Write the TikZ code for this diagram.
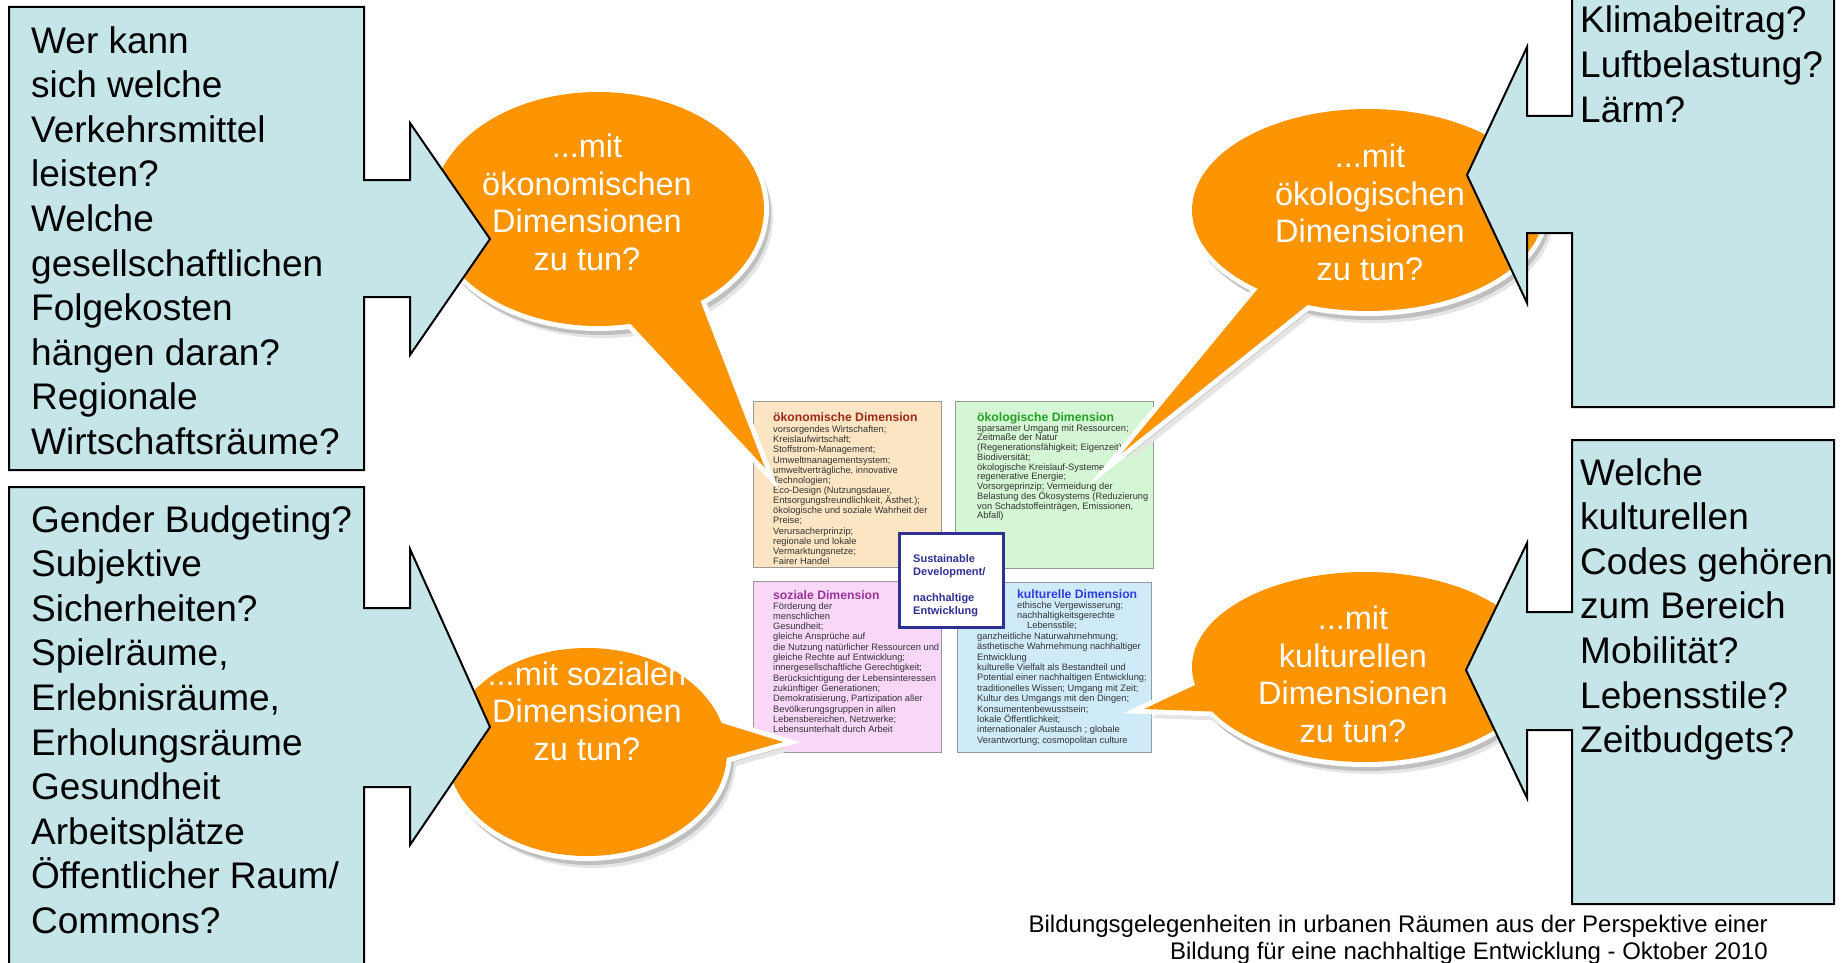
\documentclass[tikz,border=0pt]{standalone}
\usepackage{fontspec}
\setmainfont{Liberation Sans}
\usetikzlibrary{calc}
\definecolor{callblue}{HTML}{C5E5E8}
\definecolor{bubbleorange}{HTML}{FD9402}
\definecolor{econfill}{HTML}{FBE5C2}
\definecolor{ecofill}{HTML}{D5F6D5}
\definecolor{sozfill}{HTML}{F9D7F9}
\definecolor{kultfill}{HTML}{CFEBF9}
\definecolor{econtitle}{HTML}{9C2A1A}
\definecolor{ecotitle}{HTML}{22A022}
\definecolor{soztitle}{HTML}{9A3399}
\definecolor{kulttitle}{HTML}{2F3DE0}
\definecolor{sdnavy}{HTML}{2E3192}
\definecolor{bodygrey}{HTML}{333333}
\newcommand\speechbubble[6]{%
  \begin{scope}[shift={(6,9)}]
    \fill[black!10] #1 ellipse[x radius=#2+3, y radius=#3+3];
    \fill[black!10] #4 -- #6 -- #5 -- cycle;
  \end{scope}
  \begin{scope}[shift={(3,5)}]
    \fill[black!25] #1 ellipse[x radius=#2+4, y radius=#3+4];
    \fill[black!25] #4 -- #6 -- #5 -- cycle;
  \end{scope}
  \fill[white] #1 ellipse[x radius=#2+5, y radius=#3+5];
  \filldraw[white, line width=10pt, line join=miter] #4 -- #6 -- #5 -- cycle;
  \fill[bubbleorange] #1 ellipse[x radius=#2, y radius=#3];
  \fill[bubbleorange] #4 -- #6 -- #5 -- cycle;
}
\begin{document}
\begin{tikzpicture}[x=1pt,y=-1pt,
  callout/.style={fill=callblue, draw=black, line width=2pt, line join=miter},
  calltext/.style={font=\fontsize{37}{44.6}\selectfont, align=left, anchor=base west, inner sep=0pt},
  bubbletext/.style={font=\fontsize{32.5}{37.5}\selectfont, text=white, align=center, inner sep=0pt},
  dimbox/.style={draw=black!40, line width=1.2pt, anchor=north west, inner sep=0pt},
  dimtitle/.style={font=\fontsize{12.2}{14}\selectfont\bfseries, anchor=base west, inner sep=0pt},
  dimbody/.style={font=\fontsize{9.3}{10.15}\selectfont, text=bodygrey, align=left, anchor=base west, inner sep=0pt},
  sdbox/.style={draw=sdnavy, line width=2.5pt, fill=white, anchor=north west, inner sep=0pt},
  sdtext/.style={font=\fontsize{11}{13}\selectfont\bfseries, text=sdnavy, align=left, anchor=base west, inner sep=0pt}
]
\useasboundingbox (0,0) rectangle (1841,963);
\clip (0,0) rectangle (1841,963);

% ---------- central chart ----------
\node[dimbox, fill=econfill, minimum width=188pt, minimum height=166pt] (econ) at (753,401) {};
\node[dimbox, fill=ecofill, minimum width=198pt, minimum height=167pt] (eco) at (955,401) {};
\node[dimbox, fill=sozfill, minimum width=188pt, minimum height=171pt] (soz) at (753,581) {};
\node[dimbox, fill=kultfill, minimum width=194pt, minimum height=170pt] (kult) at (957,582) {};

% (multi-line nodes: anchor=base is the baseline of the last line)
\node[dimtitle, text=econtitle] (econT) at (773,421) {ökonomische Dimension};
\node[dimbody] (econB) at (773,564.5) {vorsorgendes Wirtschaften;\\Kreislaufwirtschaft;\\Stoffstrom-Management;\\Umweltmanagementsystem;\\umweltverträgliche, innovative\\Technologien;\\Eco-Design (Nutzungsdauer,\\Entsorgungsfreundlichkeit, Ästhet.);\\ökologische und soziale Wahrheit der\\Preise;\\Verursacherprinzip;\\regionale und lokale\\Vermarktungsnetze;\\Fairer Handel};

\node[dimtitle, text=ecotitle] (ecoT) at (977,421) {ökologische Dimension};
\node[dimbody, font=\fontsize{9.3}{9.75}\selectfont] (ecoB) at (977,518.8) {sparsamer Umgang mit Ressourcen;\\Zeitmaße der Natur\\(Regenerationsfähigkeit; Eigenzeit);\\Biodiversität;\\ökologische Kreislauf-Systeme;\\regenerative Energie;\\Vorsorgeprinzip; Vermeidung der\\Belastung des Ökosystems (Reduzierung\\von Schadstoffeinträgen, Emissionen,\\Abfall)};

\node[dimtitle, text=soztitle] (sozT) at (773,599) {soziale Dimension};
\node[dimbody, font=\fontsize{9.3}{10.3}\selectfont] (sozB) at (773,732.6) {Förderung der\\menschlichen\\Gesundheit;\\gleiche Ansprüche auf\\die Nutzung natürlicher Ressourcen und\\gleiche Rechte auf Entwicklung;\\innergesellschaftliche Gerechtigkeit;\\Berücksichtigung der Lebensinteressen\\zukünftiger Generationen;\\Demokratisierung, Partizipation aller\\Bevölkerungsgruppen in allen\\Lebensbereichen, Netzwerke;\\Lebensunterhalt durch Arbeit};

\node[dimtitle, text=kulttitle] (kultT) at (1017,598.5) {kulturelle Dimension};
\node[dimbody, font=\fontsize{9.3}{10.4}\selectfont] (kultB) at (977,743.2) {\hspace*{40pt}ethische Vergewisserung;\\\hspace*{40pt}nachhaltigkeitsgerechte\\\hspace*{50pt}Lebensstile;\\ganzheitliche Naturwahrnehmung;\\ästhetische Wahrnehmung nachhaltiger\\Entwicklung\\kulturelle Vielfalt als Bestandteil und\\Potential einer nachhaltigen Entwicklung;\\traditionelles Wissen; Umgang mit Zeit;\\Kultur des Umgangs mit den Dingen;\\Konsumentenbewusstsein;\\lokale Öffentlichkeit;\\internationaler Austausch ; globale\\Verantwortung; cosmopolitan culture};

\node[sdbox, minimum width=104pt, minimum height=94pt] (sd) at (898,532) {};
\node[sdtext] (sdT) at (913,614) {Sustainable\\Development/\\[13pt]nachhaltige\\Entwicklung};

% ---------- speech bubbles ----------
\speechbubble{(598,209)}{166}{117}{(625,318)}{(700,300)}{(765,468)}
\speechbubble{(1368,210)}{176}{101}{(1265,280)}{(1320,295)}{(1122,453)}
\speechbubble{(587,752)}{140}{104}{(712,720)}{(712,762)}{(783,742)}
\speechbubble{(1365,667)}{173}{95}{(1210,678)}{(1225,712)}{(1144,709)}

\node[bubbletext, anchor=base] (b1) at (587,270) {...mit\\ökonomischen\\Dimensionen\\zu tun?};
\node[bubbletext, anchor=base] (b2) at (1370,280) {...mit\\ökologischen\\Dimensionen\\zu tun?};
\node[bubbletext, anchor=base] (b3) at (587,760) {...mit sozialen\\Dimensionen\\zu tun?};
\node[bubbletext, anchor=base] (b4) at (1353,742) {...mit\\kulturellen\\Dimensionen\\zu tun?};

% ---------- callouts ----------
\path[callout] (9,7) -- (364,7) -- (364,180) -- (410,180) -- (410,123) -- (490,239) -- (410,355) -- (410,297) -- (364,297) -- (364,470) -- (9,470) -- cycle;
\path[callout] (9,487) -- (364,487) -- (364,608) -- (410,608) -- (410,549) -- (490,727) -- (410,845) -- (410,787) -- (364,787) -- (364,975) -- (9,975) -- cycle;
\path[callout] (1572,-10) -- (1834,-10) -- (1834,407) -- (1572,407) -- (1572,233) -- (1527,233) -- (1527,303) -- (1467,175) -- (1527,47) -- (1527,116) -- (1572,116) -- cycle;
\path[callout] (1572,440) -- (1834,440) -- (1834,904) -- (1572,904) -- (1572,730) -- (1527,730) -- (1527,798) -- (1466,670) -- (1527,543) -- (1527,612) -- (1572,612) -- cycle;

\node[calltext] (tl) at (31,454.4) {Wer kann\\sich welche\\Verkehrsmittel\\leisten?\\Welche\\gesellschaftlichen\\Folgekosten\\hängen daran?\\Regionale\\Wirtschaftsräume?};
\node[calltext] (bl) at (31,933.4) {Gender Budgeting?\\Subjektive\\Sicherheiten?\\Spielräume,\\Erlebnisräume,\\Erholungsräume\\Gesundheit\\Arbeitsplätze\\Öffentlicher Raum/\\Commons?};
\node[calltext] (tr) at (1580,122.2) {Klimabeitrag?\\Luftbelastung?\\Lärm?};
\node[calltext] (br) at (1580,752.6) {Welche\\kulturellen\\Codes gehören\\zum Bereich\\Mobilität?\\Lebensstile?\\Zeitbudgets?};

% ---------- footer ----------
\node[font=\fontsize{24}{27}\selectfont, align=right, anchor=base east, inner sep=0pt] (footer) at (1768,959) {Bildungsgelegenheiten in urbanen Räumen aus der Perspektive einer\\Bildung für eine nachhaltige Entwicklung - Oktober 2010};
\end{tikzpicture}
\end{document}
